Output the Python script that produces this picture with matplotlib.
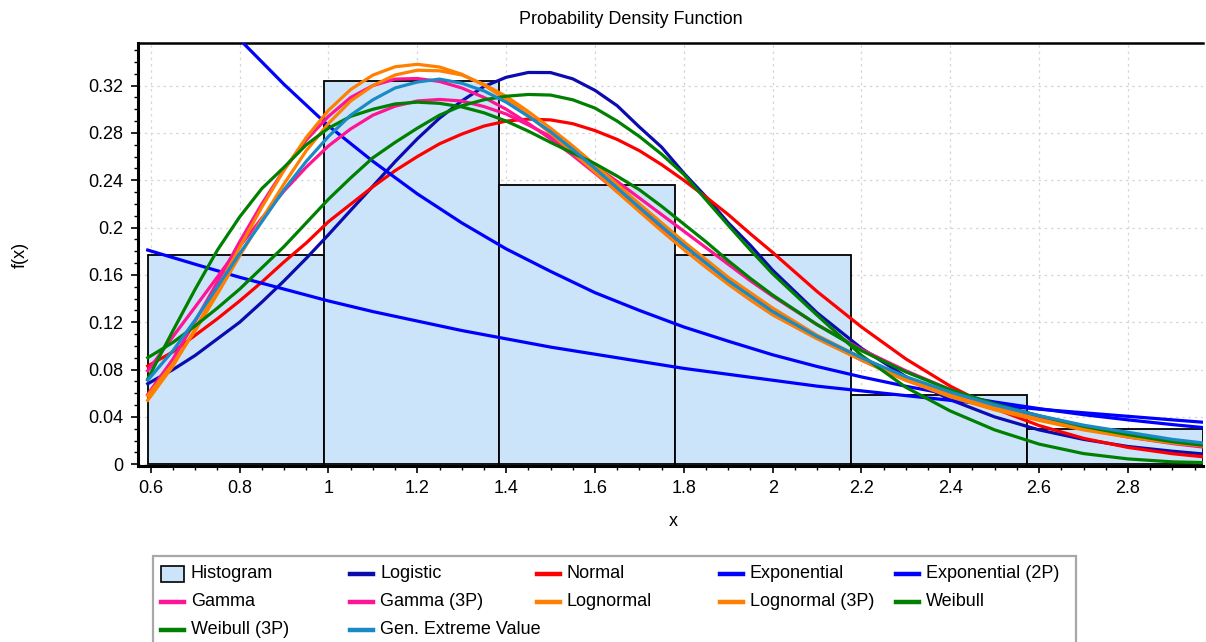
import matplotlib
matplotlib.use("Agg")
import matplotlib.pyplot as plt
from matplotlib.lines import Line2D
from matplotlib.patches import Rectangle
from matplotlib.ticker import MultipleLocator, FuncFormatter

plt.rcParams['font.family'] = ['Liberation Sans', 'DejaVu Sans']

# histogram (relative frequency per bin)
bin_edges = [0.593, 0.989, 1.385, 1.781, 2.177, 2.573, 2.969]
bin_heights = [0.1765, 0.324, 0.2356, 0.1765, 0.0589, 0.0295]

# fitted densities at these x positions
xs = [0.593, 0.65, 0.7, 0.75, 0.8, 0.85, 0.9, 0.95, 1.0, 1.05, 1.1, 1.15, 1.2, 1.25, 1.3,
      1.35, 1.4, 1.45, 1.5, 1.55, 1.6, 1.65, 1.7, 1.75, 1.8, 1.85, 1.9, 1.95, 2.0,
      2.1, 2.2, 2.3, 2.4, 2.5, 2.6, 2.7, 2.8, 2.9, 2.969]
xs_exp = [0.593, 0.7, 0.8, 0.9, 1.0, 1.1, 1.2, 1.3, 1.4, 1.5, 1.6, 1.7, 1.8,
          1.9, 2.0, 2.1, 2.2, 2.3, 2.4, 2.5, 2.6, 2.7, 2.8, 2.9, 2.969]

logistic = [0.068, 0.080, 0.092, 0.106, 0.120, 0.137, 0.155, 0.174, 0.194, 0.2146, 0.235, 0.2557, 0.275,
            0.2925, 0.307, 0.3192, 0.327, 0.3311, 0.331, 0.3257, 0.316, 0.303, 0.285, 0.268, 0.246,
            0.226, 0.204, 0.185, 0.164,
            0.128, 0.098, 0.074, 0.0545, 0.040, 0.029, 0.021, 0.015, 0.011, 0.0087]
normal = [0.083, 0.095, 0.109, 0.123, 0.138, 0.154, 0.171, 0.187, 0.205, 0.2198, 0.2345, 0.2481, 0.260,
          0.2708, 0.279, 0.2858, 0.290, 0.2917, 0.291, 0.2878, 0.282, 0.2745, 0.265, 0.2532, 0.240,
          0.2258, 0.211, 0.1947, 0.179,
          0.146, 0.116, 0.089, 0.066, 0.047, 0.0327, 0.0219, 0.0142, 0.0089, 0.0063]
gamma = [0.079, 0.108, 0.133, 0.1583, 0.184, 0.208, 0.231, 0.2511, 0.269, 0.2834, 0.295, 0.3026, 0.307,
         0.3083, 0.307, 0.3023, 0.296, 0.2867, 0.277, 0.264, 0.252, 0.239, 0.225, 0.211, 0.197,
         0.183, 0.169, 0.155, 0.142,
         0.118, 0.097, 0.079, 0.063, 0.050, 0.039, 0.030, 0.023, 0.0175, 0.0145]
gamma_3p = [0.059, 0.089, 0.121, 0.154, 0.188, 0.220, 0.249, 0.274, 0.294, 0.310, 0.320, 0.3255, 0.326,
            0.3235, 0.318, 0.310, 0.300, 0.288, 0.275, 0.261, 0.246, 0.2305, 0.215, 0.200, 0.185,
            0.170, 0.156, 0.143, 0.130,
            0.107, 0.088, 0.071, 0.058, 0.047, 0.038, 0.030, 0.024, 0.019, 0.016]
lognorm = [0.054, 0.0831, 0.1144, 0.1484, 0.1833, 0.2173, 0.2486, 0.2762, 0.2991, 0.3167, 0.3289, 0.3359,
           0.338, 0.3357, 0.3296, 0.3204, 0.3085, 0.2948, 0.2796, 0.2635, 0.2469, 0.2301, 0.2135,
           0.1972, 0.1814, 0.1664, 0.1521, 0.1387, 0.1262,
           0.106, 0.088, 0.071, 0.057, 0.046, 0.037, 0.029, 0.023, 0.018, 0.0155]
lognorm_3p = [0.058, 0.085, 0.113, 0.144, 0.176, 0.207, 0.237, 0.265, 0.288, 0.307, 0.320, 0.329, 0.333,
              0.3325, 0.329, 0.321, 0.311, 0.298, 0.284, 0.269, 0.253, 0.2365, 0.220, 0.204, 0.188,
              0.173, 0.158, 0.145, 0.132,
              0.109, 0.090, 0.073, 0.059, 0.048, 0.038, 0.030, 0.024, 0.019, 0.016]
weibull = [0.090, 0.103, 0.117, 0.132, 0.148, 0.166, 0.184, 0.204, 0.224, 0.242, 0.259, 0.272, 0.284,
           0.295, 0.303, 0.308, 0.311, 0.3125, 0.312, 0.308, 0.301, 0.290, 0.277, 0.262, 0.245,
           0.2235, 0.202, 0.181, 0.161,
           0.126, 0.092, 0.065, 0.045, 0.029, 0.017, 0.009, 0.0045, 0.002, 0.0014]
weibull_3p = [0.072, 0.113, 0.148, 0.181, 0.209, 0.233, 0.251, 0.270, 0.284, 0.294, 0.300, 0.3045, 0.306,
              0.305, 0.302, 0.297, 0.290, 0.2815, 0.272, 0.263, 0.254, 0.2435, 0.232, 0.218, 0.203,
              0.188, 0.172, 0.157, 0.143,
              0.118, 0.096, 0.078, 0.063, 0.051, 0.041, 0.032, 0.025, 0.019, 0.016]
gev = [0.071, 0.096, 0.122, 0.150, 0.178, 0.205, 0.232, 0.256, 0.277, 0.295, 0.308, 0.318, 0.323,
       0.3255, 0.322, 0.3155, 0.306, 0.294, 0.281, 0.266, 0.250, 0.2335, 0.217, 0.201, 0.185,
       0.170, 0.155, 0.142, 0.129,
       0.108, 0.090, 0.074, 0.061, 0.050, 0.041, 0.033, 0.027, 0.021, 0.018]
expon = [0.181, 0.169, 0.158, 0.148, 0.138, 0.129, 0.121, 0.113, 0.106, 0.099, 0.093, 0.087, 0.081,
         0.076, 0.071, 0.066, 0.062, 0.058, 0.054, 0.050, 0.0465, 0.0435, 0.0405, 0.0375, 0.0355]
expon_2p = [0.454, 0.402, 0.359, 0.321, 0.286, 0.256, 0.2285, 0.204, 0.182, 0.163, 0.145, 0.130, 0.116,
            0.104, 0.0925, 0.0826, 0.0738, 0.0659, 0.0589, 0.0526, 0.047, 0.0419, 0.0375, 0.0335, 0.031]

hist_color = '#cce4fa'
curves = [
    ('Logistic', xs, logistic, '#0c0cae'),
    ('Normal', xs, normal, '#ff0000'),
    ('Exponential', xs_exp, expon, '#0000ff'),
    ('Exponential (2P)', xs_exp, expon_2p, '#0000ff'),
    ('Gamma', xs, gamma, '#ff1493'),
    ('Gamma (3P)', xs, gamma_3p, '#ff1493'),
    ('Lognormal', xs, lognorm, '#ff8000'),
    ('Lognormal (3P)', xs, lognorm_3p, '#ff8000'),
    ('Weibull', xs, weibull, '#008000'),
    ('Weibull (3P)', xs, weibull_3p, '#008000'),
    ('Gen. Extreme Value', xs, gev, '#1a8ac6'),
]

W, H = 1206, 642
fig = plt.figure(figsize=(W / 100, H / 100), dpi=100)
ax = fig.add_axes([137.5 / W, 1 - 466 / H, (1203 - 137.5) / W, (466 - 43) / H])

widths = [b - a for a, b in zip(bin_edges[:-1], bin_edges[1:])]
ax.bar(bin_edges[:-1], bin_heights, width=widths, align='edge',
       color=hist_color, edgecolor='black', linewidth=1.3, zorder=1)

for name, xv, yv, col in curves:
    ax.plot(xv, yv, color=col, lw=2.3, zorder=3, solid_joinstyle='round')

ax.set_xlim(0.570, 2.969)
ax.set_ylim(-0.0015, 0.356)
ax.set_axisbelow(True)
ax.grid(True, which='major', color='#d6d6d6', linestyle=(0, (2, 3)), linewidth=0.9)

ax.xaxis.set_major_locator(MultipleLocator(0.2))
ax.xaxis.set_minor_locator(MultipleLocator(0.05))
ax.yaxis.set_major_locator(MultipleLocator(0.04))
ax.yaxis.set_minor_locator(MultipleLocator(0.01))
fmt = FuncFormatter(lambda v, p: ('%.2f' % v).rstrip('0').rstrip('.') if abs(v) > 1e-9 else '0')
ax.xaxis.set_major_formatter(fmt)
ax.yaxis.set_major_formatter(fmt)
ax.tick_params(which='major', direction='out', length=5, width=1.2, labelsize=13, pad=5)
ax.tick_params(which='minor', direction='out', length=3, width=1.0)

ax.spines['right'].set_visible(False)
ax.spines['left'].set_linewidth(2.2)
ax.spines['bottom'].set_linewidth(2.2)
ax.spines['top'].set_linewidth(1.8)

fig.text(631 / W, 1 - 19 / H, 'Probability Density Function', ha='center', va='center', fontsize=13)
fig.text(673 / W, 1 - 521 / H, 'x', ha='center', va='center', fontsize=13)
fig.text(20 / W, 1 - 255 / H, 'f(x)', ha='center', va='center', fontsize=13, rotation=90)

# legend drawn by hand in figure pixels
def fx(px):
    return px / W

def fy(py):
    return 1 - py / H

fig.add_artist(Rectangle((fx(153), fy(700)), fx(1076) - fx(153), fy(556) - fy(700),
                         transform=fig.transFigure, facecolor='white', edgecolor='#a8a8a8', lw=1.6))

legend_items = [('Histogram', None)] + [(n, c) for n, _, _, c in curves]
col_x = [161, 350, 537, 720, 896]
row_y = [574, 602, 630]
for i, (name, col) in enumerate(legend_items):
    x0 = col_x[i % 5]
    y0 = row_y[i // 5]
    if col is None:
        fig.add_artist(Rectangle((fx(x0), fy(y0 + 8)), fx(23), 16 / H, transform=fig.transFigure,
                                 facecolor=hist_color, edgecolor='black', lw=1.2))
    else:
        fig.add_artist(Line2D([fx(x0), fx(x0 + 23)], [fy(y0), fy(y0)], transform=fig.transFigure,
                              color=col, lw=3.2))
    fig.text(fx(x0 + 30), fy(y0), name, ha='left', va='center', fontsize=13)

fig.savefig('out.png', dpi=100)
